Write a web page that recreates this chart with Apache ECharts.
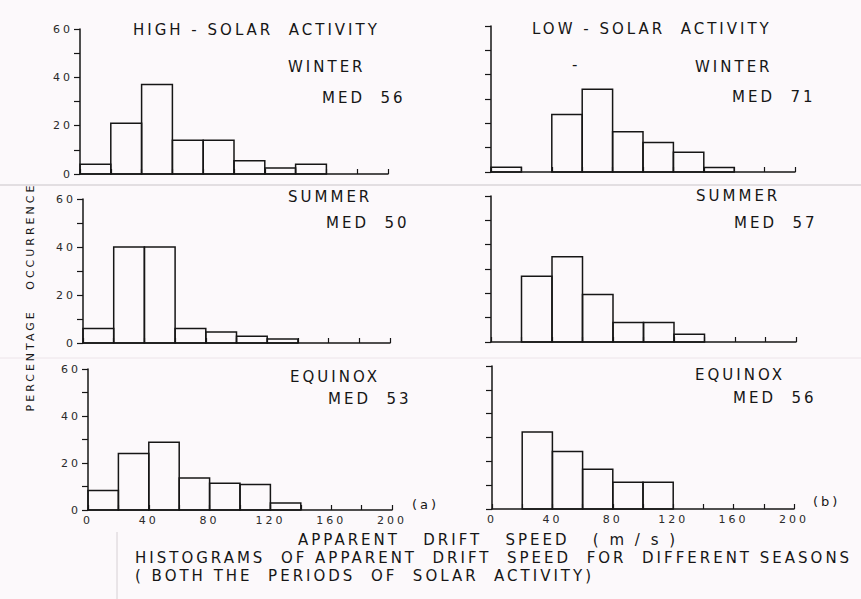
<!DOCTYPE html>
<html>
<head>
<meta charset="utf-8">
<script src="https://cdn.jsdelivr.net/npm/echarts@6/dist/echarts.min.js"></script>
<style>
  html, body { margin: 0; padding: 0; background: #fcf9fb; }
  #chart { width: 861px; height: 599px; letter-spacing: 3px; }
  #chart text { white-space: pre; }
</style>
</head>
<body>
<div id="chart"></div>
<script>
// ---- data ----
const binStarts = [0, 20, 40, 60, 80, 100, 120, 140, 160, 180];
const binWidth = 20;
const xTicks = [0, 40, 80, 120, 160, 200];
const yTicks = [0, 20, 40, 60];

const highWinter  = [4, 21, 37, 14, 14, 5.5, 2.5, 4, 0, 0];
const highSummer  = [6, 40, 40, 6, 4.6, 2.8, 1.7, 0, 0, 0];
const highEquinox = [8.3, 24, 28.8, 13.6, 11.4, 10.9, 3, 0, 0, 0];
const lowWinter   = [2, 0, 23.6, 34, 16.5, 12.1, 8.1, 1.8, 0, 0];
const lowSummer   = [0, 27, 35, 19.5, 8, 8, 3.2, 0, 0, 0];
const lowEquinox  = [0, 32.3, 24.1, 16.7, 11.2, 11.2, 0, 0, 0, 0];

const panelTitles = ['WINTER', 'SUMMER', 'EQUINOX'];
const highMedians = [56, 50, 53];
const lowMedians  = [71, 57, 56];

// ---- layout ----
const INK = '#161616';
const FONT = 'DejaVu Sans';
const grids = [
  { left: 80,  top: 29,  width: 308, height: 145 }, // high winter
  { left: 83,  top: 199, width: 307, height: 144 }, // high summer
  { left: 88,  top: 369, width: 304, height: 141 }, // high equinox
  { left: 491, top: 26,  width: 304, height: 146 }, // low winter
  { left: 491, top: 196, width: 305, height: 146 }, // low summer
  { left: 492, top: 366, width: 302, height: 143 }  // low equinox
];
const panelData = [highWinter, highSummer, highEquinox, lowWinter, lowSummer, lowEquinox];

function toBins(arr) {
  return arr.map((v, i) => [binStarts[i], binStarts[i] + binWidth, v]);
}

const xAxes = grids.map((g, i) => ({
  type: 'value', gridIndex: i, min: 0, max: 200, interval: 20,
  axisLine: { show: true, lineStyle: { color: INK, width: 1.5 } },
  axisTick: { show: true, inside: true, length: 5, lineStyle: { color: INK, width: 1.2 } },
  axisLabel: {
    show: i === 2 || i === 5,
    formatter: v => (xTicks.indexOf(v) >= 0 ? String(v) : ''),
    fontSize: 11, fontFamily: FONT, color: '#2a2a2a', margin: 5
  },
  splitLine: { show: false }
}));

const yAxes = grids.map((g, i) => ({
  type: 'value', gridIndex: i, min: 0, max: 60, interval: 10,
  axisLine: { show: true, lineStyle: { color: INK, width: 1.5 } },
  axisTick: { show: true, inside: false, length: 6, lineStyle: { color: INK, width: 1.2 } },
  axisLabel: {
    show: i < 3,
    formatter: v => (yTicks.indexOf(v) >= 0 ? String(v) : ''),
    fontSize: 11, fontFamily: FONT, color: '#2a2a2a', margin: 7
  },
  splitLine: { show: false }
}));

const series = panelData.map((d, i) => ({
  type: 'custom', xAxisIndex: i, yAxisIndex: i,
  data: toBins(d),
  encode: { x: [0, 1], y: 2 },
  renderItem: function (params, api) {
    const val = api.value(2);
    if (!val) return null;
    const p0 = api.coord([api.value(0), 0]);
    const p1 = api.coord([api.value(1), val]);
    return {
      type: 'rect',
      shape: { x: p0[0], y: p1[1], width: p1[0] - p0[0], height: p0[1] - p1[1] },
      style: { fill: 'rgba(0,0,0,0)', stroke: INK, lineWidth: 1.5 }
    };
  }
}));

function txt(text, x, y, size, extra) {
  return Object.assign({
    type: 'text', x: x, y: y, silent: true,
    style: { text: text, fontSize: size || 15, fontFamily: FONT, fill: INK, align: 'left', verticalAlign: 'middle' }
  }, extra || {});
}

const graphics = [
  { type: 'line', silent: true, shape: { x1: 0, y1: 185, x2: 861, y2: 185 }, style: { stroke: '#c9c4c8', lineWidth: 1 } },
  { type: 'line', silent: true, shape: { x1: 0, y1: 358, x2: 861, y2: 358 }, style: { stroke: '#ece4e9', lineWidth: 1 } },
  { type: 'line', silent: true, shape: { x1: 117, y1: 532, x2: 117, y2: 599 }, style: { stroke: '#d6d0d4', lineWidth: 1 } },

  txt('HIGH - SOLAR  ACTIVITY', 133, 30),
  txt('LOW - SOLAR  ACTIVITY', 532, 29),
  txt('-', 572, 65),

  txt(panelTitles[0], 288, 67),
  txt('MED  ' + highMedians[0], 322, 98),
  txt(panelTitles[0], 695, 67),
  txt('MED  ' + lowMedians[0], 732, 97),

  txt(panelTitles[1], 288, 197),
  txt('MED  ' + highMedians[1], 326, 223),
  txt(panelTitles[1], 696, 196),
  txt('MED  ' + lowMedians[1], 734, 223),

  txt(panelTitles[2], 290, 377),
  txt('MED  ' + highMedians[2], 328, 399),
  txt(panelTitles[2], 695, 375),
  txt('MED  ' + lowMedians[2], 733, 398),

  txt('(a)', 412, 504, 13),
  txt('(b)', 813, 501, 13),

  txt('APPARENT   DRIFT   SPEED   ( m / s )', 298, 540),
  txt('HISTOGRAMS  OF APPARENT  DRIFT  SPEED  FOR  DIFFERENT SEASONS', 135, 558),
  txt('( BOTH THE  PERIODS  OF  SOLAR  ACTIVITY)', 135, 576),

  {
    type: 'text', x: 30, y: 297, rotation: Math.PI / 2, silent: true,
    style: { text: 'PERCENTAGE   OCCURRENCE', fontSize: 11, fontFamily: FONT, fill: INK, align: 'center', verticalAlign: 'middle' }
  }
];

const chart = echarts.init(document.getElementById('chart'), null, { renderer: 'svg' });
chart.setOption({
  backgroundColor: '#fcf9fb',
  animation: false,
  grid: grids,
  xAxis: xAxes,
  yAxis: yAxes,
  series: series,
  graphic: graphics
});
</script>
</body>
</html>
